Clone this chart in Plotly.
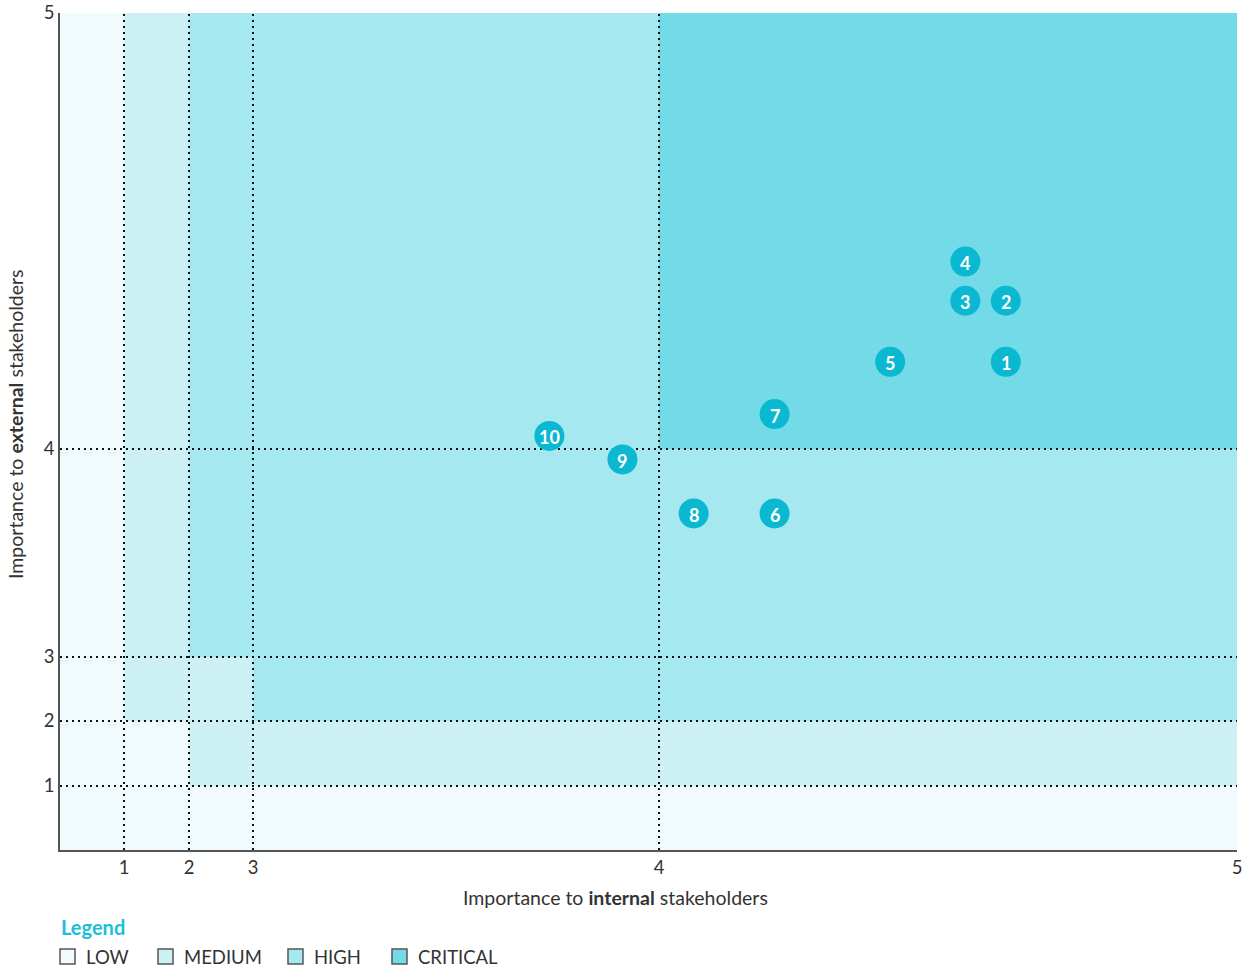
import numpy as np
import plotly.graph_objects as go

# ---- data -------------------------------------------------------------
topic_ids = ["1", "2", "3", "4", "5", "6", "7", "8", "9", "10"]
internal_importance = [4.60, 4.60, 4.53, 4.53, 4.40, 4.20, 4.20, 4.06, 3.91, 3.73]
external_importance = [4.20, 4.34, 4.34, 4.43, 4.20, 3.69, 4.08, 3.69, 3.95, 4.03]

tick_values = [1, 2, 3, 4, 5]
tick_labels = ["1", "2", "3", "4", "5"]

# materiality level per grid cell (rows: external 0-1 .. 4-5, cols: internal 0-1 .. 4-5)
level_matrix = [
    [0, 0, 0, 0, 0],
    [0, 0, 1, 1, 1],
    [0, 1, 1, 2, 2],
    [0, 1, 2, 2, 2],
    [0, 1, 2, 2, 3],
]
level_names = ["LOW", "MEDIUM", "HIGH", "CRITICAL"]
level_colors = ["#f1fafc", "#cdf0f5", "#a6e8ef", "#72dbe7"]

# ---- piecewise axis scale (stretches the upper range of each axis) ------
SCALE_VALUES = [0, 1, 2, 3, 4, 5]
X_SCALE_POS = [0, 64, 129, 193, 599, 1177]
Y_SCALE_POS = [0, 64, 129, 193, 401, 837]


def sx(v):
    return np.interp(v, SCALE_VALUES, X_SCALE_POS)


def sy(v):
    return np.interp(v, SCALE_VALUES, Y_SCALE_POS)


W, H = 1246, 968
ML, MR, MT, MB = 60, 9, 13, 118
PW, PH = W - ML - MR, H - MT - MB


def paper_x(px):
    return (px - ML) / PW


def paper_y(py):
    return (H - MB - py) / PH


FONT = "Lato"
TEXT_COLOR = "#333333"
ACCENT = "#0ab9d1"

fig = go.Figure()

# background level cells
n = len(level_colors)
colorscale = []
for i, c in enumerate(level_colors):
    colorscale += [[i / n, c], [(i + 1) / n, c]]
fig.add_trace(go.Heatmap(
    x=sx(SCALE_VALUES), y=sy(SCALE_VALUES), z=level_matrix,
    colorscale=colorscale, zmin=-0.5, zmax=n - 0.5,
    showscale=False, hoverinfo="skip",
))

# dotted guide lines at the inner tick values
gx, gy = [], []
for v in tick_values[:-1]:
    gx += [sx(v), sx(v), None]
    gy += [sy(0), sy(5), None]
    gx += [sx(0), sx(5), None]
    gy += [sy(v), sy(v), None]
fig.add_trace(go.Scatter(
    x=gx, y=gy, mode="lines", hoverinfo="skip", showlegend=False,
    line=dict(color="#111111", width=2, dash="2px,4px"),
))

# topics
px_int = sx(internal_importance)
px_ext = sy(external_importance)
fig.add_trace(go.Scatter(
    x=px_int, y=px_ext, mode="markers",
    marker=dict(size=30, color=ACCENT, line=dict(width=0)),
    hoverinfo="skip", showlegend=False,
))

fig.update_xaxes(
    range=[0, sx(5)], tickvals=sx(tick_values), ticktext=tick_labels,
    showgrid=False, zeroline=False, showline=True, linecolor="#555555",
    linewidth=1.5, ticks="", layer="above traces", automargin=False,
    tickfont=dict(family=FONT, size=18.5, color=TEXT_COLOR),
)
fig.update_yaxes(
    range=[0, sy(5)], tickvals=sy(tick_values), ticktext=tick_labels,
    showgrid=False, zeroline=False, showline=True, linecolor="#555555",
    linewidth=1.5, ticks="", layer="above traces", automargin=False,
    tickfont=dict(family=FONT, size=18.5, color=TEXT_COLOR),
)

annotations = [
    dict(x=xv, y=yv, xref="x", yref="y", text=f"<b>{label}</b>",
         showarrow=False, xanchor="center", yanchor="middle", yshift=-1.5,
         font=dict(family=FONT, size=18, color="white"))
    for xv, yv, label in zip(px_int, px_ext, topic_ids)
]

annotations += [
    dict(x=paper_x(615), y=paper_y(897), xref="paper", yref="paper",
         text="Importance to <b>internal</b> stakeholders", showarrow=False,
         xanchor="center", yanchor="middle",
         font=dict(family=FONT, size=19.5, color=TEXT_COLOR)),
    dict(x=paper_x(15), y=paper_y(424), xref="paper", yref="paper",
         text="Importance to <b>external</b> stakeholders", showarrow=False,
         textangle=-90, xanchor="center", yanchor="middle",
         font=dict(family=FONT, size=19.5, color=TEXT_COLOR)),
    dict(x=paper_x(59), y=paper_y(927), xref="paper", yref="paper",
         text="<b>Legend</b>", showarrow=False, xanchor="left", yanchor="middle",
         font=dict(family=FONT, size=20, color="#1bc0d8")),
]

# legend swatches
shapes = []
legend_left = [60, 158, 288, 392]
for name, color, left in zip(level_names, level_colors, legend_left):
    shapes.append(dict(
        type="rect", xref="paper", yref="paper",
        x0=paper_x(left), x1=paper_x(left + 15),
        y0=paper_y(964), y1=paper_y(949),
        fillcolor=color, line=dict(color="#555555", width=1.5),
    ))
    annotations.append(dict(
        x=paper_x(left + 24), y=paper_y(957), xref="paper", yref="paper",
        text=name, showarrow=False, xanchor="left", yanchor="middle",
        font=dict(family=FONT, size=18.5, color=TEXT_COLOR),
    ))

fig.update_layout(
    width=W, height=H,
    margin=dict(l=ML, r=MR, t=MT, b=MB),
    paper_bgcolor="white", plot_bgcolor="white",
    showlegend=False,
    annotations=annotations, shapes=shapes,
    font=dict(family=FONT, color=TEXT_COLOR),
)

fig.write_html("out.html")
